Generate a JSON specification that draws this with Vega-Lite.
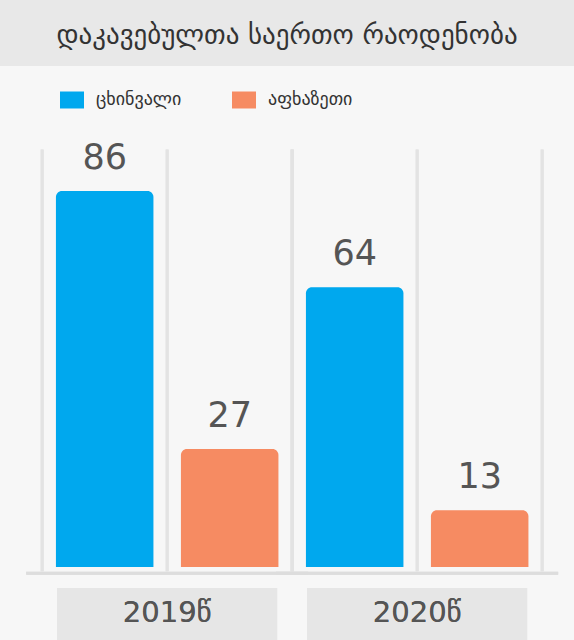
{
  "$schema": "https://vega.github.io/schema/vega-lite/v6.json",
  "width": 574,
  "height": 574,
  "autosize": {"type": "none"},
  "padding": {"top": 66, "left": 0, "right": 0, "bottom": 0},
  "background": "#e8e8e8",
  "title": {
    "text": "დაკავებულთა საერთო რაოდენობა",
    "anchor": "middle",
    "baseline": "middle",
    "offset": 3,
    "font": "DejaVu Sans",
    "fontSize": 27,
    "fontWeight": "normal",
    "color": "#333333"
  },
  "config": {
    "view": {"fill": "#f7f7f7", "stroke": null},
    "font": "DejaVu Sans"
  },
  "data": {
    "values": [
      {"year": "2019წ", "region": "ცხინვალი", "value": 86},
      {"year": "2019წ", "region": "აფხაზეთი", "value": 27},
      {"year": "2020წ", "region": "ცხინვალი", "value": 64},
      {"year": "2020წ", "region": "აფხაზეთი", "value": 13}
    ]
  },
  "resolve": {"scale": {"x": "shared", "y": "shared"}},
  "layer": [
    {
      "mark": {"type": "rule", "color": "#e3e3e3", "strokeWidth": 3},
      "encoding": {
        "x": {"field": "year", "type": "nominal", "bandPosition": 0, "scale": {"paddingInner": 0, "paddingOuter": 0.148, "align": 0.57}, "axis": null},
        "y": {"datum": 95.5, "type": "quantitative", "scale": {"domain": [-16.7, 114.6], "nice": false, "zero": false}, "axis": null},
        "y2": {"datum": -1}
      }
    },
    {
      "mark": {"type": "rule", "color": "#e3e3e3", "strokeWidth": 3},
      "encoding": {
        "x": {"field": "year", "type": "nominal", "bandPosition": 0.5, "axis": null},
        "y": {"datum": 95.5, "type": "quantitative"},
        "y2": {"datum": -1}
      }
    },
    {
      "mark": {"type": "rule", "color": "#e3e3e3", "strokeWidth": 3},
      "encoding": {
        "x": {"field": "year", "type": "nominal", "bandPosition": 1, "axis": null},
        "y": {"datum": 95.5, "type": "quantitative"},
        "y2": {"datum": -1}
      }
    },
    {
      "mark": {"type": "bar", "color": "#dddddd", "width": {"band": 1.128}},
      "encoding": {
        "x": {"field": "year", "type": "nominal", "axis": null},
        "y": {"datum": -1.1, "type": "quantitative"},
        "y2": {"datum": -1.8}
      }
    },
    {
      "mark": {"type": "bar", "cornerRadiusTopLeft": 6, "cornerRadiusTopRight": 6},
      "encoding": {
        "x": {"field": "year", "type": "nominal", "axis": null},
        "xOffset": {"field": "region", "type": "nominal", "sort": ["ცხინვალი", "აფხაზეთი"], "scale": {"paddingInner": 0.22, "paddingOuter": 0.11}},
        "y": {"field": "value", "type": "quantitative"},
        "y2": {"datum": 0},
        "color": {
          "field": "region",
          "type": "nominal",
          "title": null,
          "scale": {"domain": ["ცხინვალი", "აფხაზეთი"], "range": ["#00a8ee", "#f68b62"]},
          "legend": {
            "orient": "none",
            "legendX": 62,
            "legendY": 24,
            "direction": "horizontal",
            "symbolType": "M-1.2,-0.85H1.2V0.85H-1.2Z",
            "symbolSize": 400,
            "symbolStrokeWidth": 0,
            "symbolOpacity": 1,
            "labelFont": "DejaVu Sans",
            "labelFontSize": 18,
            "labelColor": "#333333",
            "labelOffset": 14,
            "columnPadding": 50,
            "labelLimit": 200
          }
        }
      }
    },
    {
      "mark": {"type": "text", "baseline": "bottom", "dy": -15, "fontSize": 35, "color": "#555555", "font": "DejaVu Sans"},
      "encoding": {
        "x": {"field": "year", "type": "nominal", "axis": null},
        "xOffset": {"field": "region", "type": "nominal", "sort": ["ცხინვალი", "აფხაზეთი"]},
        "y": {"field": "value", "type": "quantitative"},
        "text": {"field": "value", "type": "quantitative"}
      }
    },
    {
      "mark": {"type": "bar", "color": "#e6e6e6", "width": {"band": 0.88}},
      "encoding": {
        "x": {"field": "year", "type": "nominal", "axis": null},
        "y": {"datum": -4.8, "type": "quantitative"},
        "y2": {"datum": -16.7}
      }
    },
    {
      "mark": {"type": "text", "baseline": "middle", "fontSize": 29, "color": "#555555", "font": "DejaVu Sans"},
      "encoding": {
        "x": {"field": "year", "type": "nominal", "axis": null},
        "y": {"datum": -10.6, "type": "quantitative"},
        "text": {"field": "year", "type": "nominal"}
      }
    }
  ]
}
